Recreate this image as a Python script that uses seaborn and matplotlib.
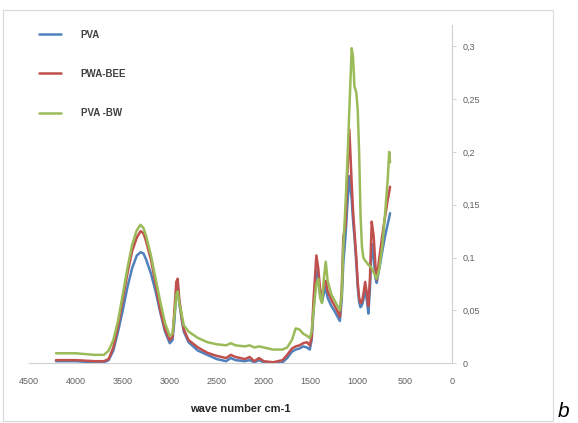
import numpy as np
import pandas as pd
import matplotlib
matplotlib.use("Agg")
import matplotlib.pyplot as plt
from matplotlib.patches import Rectangle
import seaborn as sns

# wave numbers (cm-1) shared by the three spectra
wavenumber = [4210, 4000, 3800, 3700, 3650, 3600, 3550, 3500, 3450, 3400, 3350, 3310,
              3280, 3250, 3200, 3150, 3100, 3050, 3000, 2970, 2950, 2930, 2915, 2900,
              2870, 2850, 2800, 2700, 2600, 2500, 2400, 2350, 2300, 2200, 2150, 2100,
              2050, 2000, 1900, 1800, 1750, 1700, 1660, 1620, 1580, 1540, 1510, 1490,
              1470, 1440, 1420, 1400, 1380, 1360, 1340, 1320, 1280, 1250, 1220, 1190,
              1170, 1153, 1130, 1110, 1089, 1064, 1050, 1035, 1015, 1000, 985, 970,
              955, 940, 921, 900, 887, 870, 851, 830, 810, 798, 770, 740,
              710, 680, 665, 656]

pva = [.002, .002, .001, .001, .003, .012, .030, .050, .072, .090, .102, .105,
       .104, .098, .085, .068, .048, .030, .019, .022, .040, .068, .074, .058,
       .040, .030, .020, .012, .008, .004, .002, .005, .003, .002, .003, .001,
       .003, .001, .000, .001, .005, .011, .013, .014, .016, .015, .013, .022,
       .050, .088, .078, .065, .058, .066, .072, .062, .054, .050, .045, .040,
       .060, .095, .120, .150, .177, .155, .135, .120, .095, .072, .058, .053,
       .055, .060, .070, .058, .047, .070, .113, .100, .080, .076, .090, .105,
       .120, .132, .138, .142]

pwa_bee = [.003, .003, .002, .002, .004, .015, .035, .060, .085, .106, .119, .125,
           .123, .115, .098, .075, .050, .032, .022, .025, .050, .077, .080, .062,
           .042, .032, .022, .015, .010, .007, .005, .008, .006, .004, .006, .002,
           .005, .002, .001, .003, .008, .014, .016, .017, .019, .020, .017, .025,
           .060, .102, .090, .070, .063, .074, .078, .068, .060, .055, .050, .044,
           .070, .120, .130, .180, .221, .170, .145, .125, .100, .077, .062, .057,
           .058, .065, .077, .065, .054, .080, .134, .120, .090, .079, .100, .120,
           .138, .155, .162, .167]

pva_bw = [.0095, .0095, .008, .008, .012, .022, .040, .065, .090, .112, .126, .131,
          .128, .120, .102, .080, .058, .038, .026, .028, .045, .065, .068, .058,
          .045, .036, .030, .024, .020, .018, .017, .019, .017, .016, .017, .015,
          .016, .015, .013, .013, .015, .022, .033, .032, .028, .026, .024, .030,
          .050, .075, .080, .062, .057, .080, .096, .078, .065, .060, .055, .050,
          .065, .110, .150, .190, .240, .298, .290, .262, .256, .240, .200, .140,
          .110, .100, .097, .095, .093, .092, .090, .086, .082, .080, .090, .110,
          .140, .175, .200, .190]

series_names = ["PVA", "PWA-BEE", "PVA -BW"]
series_colors = ["#4F81BD", "#C0504D", "#9BBB59"]
y_ticks = [0, 0.05, 0.1, 0.15, 0.2, 0.25, 0.3]
y_tick_labels = ["0", "0,05", "0,1", "0,15", "0,2", "0,25", "0,3"]
x_ticks = [4500, 4000, 3500, 3000, 2500, 2000, 1500, 1000, 500, 0]

df = pd.DataFrame({
    "wavenumber": wavenumber * 3,
    "absorbance": pva + pwa_bee + pva_bw,
    "sample": [n for n in series_names for _ in wavenumber],
})

sns.set_style("white")
plt.rcParams["font.family"] = ["Liberation Sans", "DejaVu Sans"]

fig = plt.figure(figsize=(5.78, 4.23), dpi=100)
ax = fig.add_axes([0.0497, 0.1411, 0.7318, 0.7999])

sns.lineplot(data=df, x="wavenumber", y="absorbance", hue="sample",
             hue_order=series_names, palette=series_colors, estimator=None,
             sort=False, linewidth=1.8, ax=ax)

ax.set_xlim(4500, 0)
ax.set_ylim(0, 0.32)
ax.set_xticks(x_ticks)
ax.set_xticklabels([str(t) for t in x_ticks])
ax.set_yticks(y_ticks)
ax.set_yticklabels(y_tick_labels)
ax.yaxis.tick_right()
ax.set_xlabel("")
ax.set_ylabel("")

for side in ["top", "left"]:
    ax.spines[side].set_visible(False)
ax.spines["bottom"].set_color("#d0d0d0")
ax.spines["right"].set_color("#d0d0d0")
ax.tick_params(axis="x", length=3, width=0.7, color="#d0d0d0", pad=8,
               labelsize=6.5, labelcolor="#606060", direction="inout")
ax.tick_params(axis="y", length=3, width=0.7, color="#d0d0d0", pad=5,
               labelsize=6.5, labelcolor="#606060", direction="out")

handles, labels = ax.get_legend_handles_labels()
leg = ax.legend(handles, labels, loc="upper left",
                bbox_to_anchor=(0.067, 0.93), bbox_transform=fig.transFigure,
                frameon=False, fontsize=7, labelspacing=3.0, handlelength=2.3,
                handletextpad=2.0, borderpad=0, borderaxespad=0)
for t in leg.get_texts():
    t.set_fontweight("bold")
    t.set_color("#404040")

fig.text(240 / 578, 1 - 409 / 423, "wave number cm-1", ha="center", va="center",
         fontsize=8, fontweight="bold", color="#262626")
fig.text(558 / 578, 1 - 417 / 423, "b", ha="left", va="baseline",
         fontsize=15, fontstyle="italic", color="#000000")

fig.add_artist(Rectangle((3 / 578, 1 - 421 / 423), 550 / 578, 411 / 423,
                         transform=fig.transFigure, fill=False,
                         edgecolor="#d9d9d9", linewidth=0.8))

fig.savefig("out.png", dpi=100)
